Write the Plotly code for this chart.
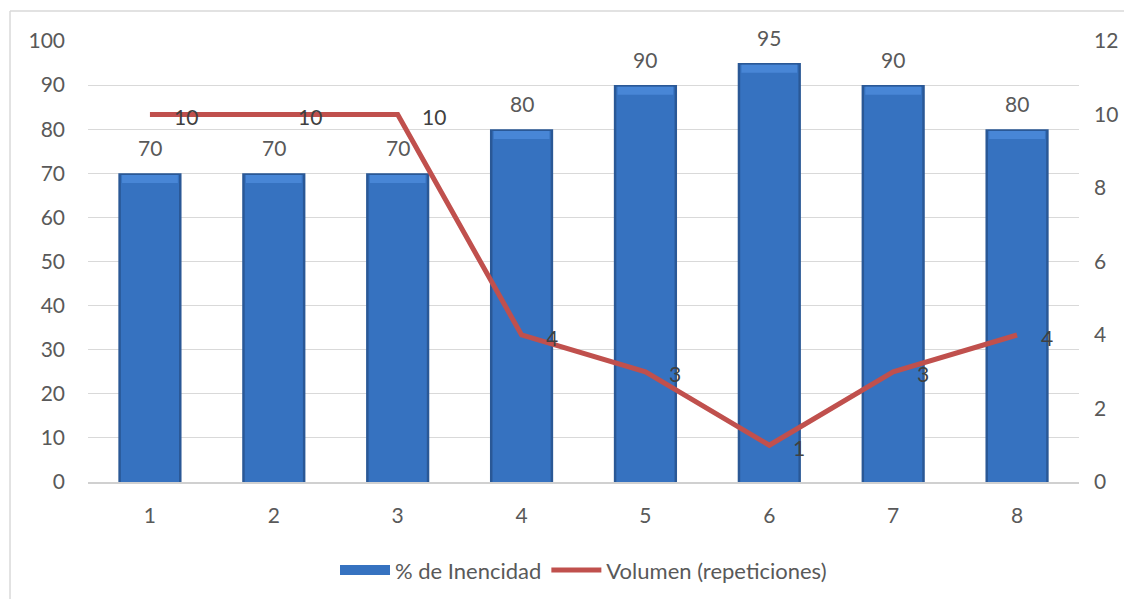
import plotly.graph_objects as go

categories = [1, 2, 3, 4, 5, 6, 7, 8]
intensidad = [70, 70, 70, 80, 90, 95, 90, 80]
volumen = [10, 10, 10, 4, 3, 1, 3, 4]
left_ticks = [0, 10, 20, 30, 40, 50, 60, 70, 80, 90, 100]
right_ticks = [0, 2, 4, 6, 8, 10, 12]

FONT = "Lato"
GRAY = "#595959"
BLUE = "#3672c0"
RED = "#c0504d"
BEVEL = 1.8  # height of the light top bevel strip, in axis units

fig = go.Figure()
# outer dark edge of each bar
fig.add_trace(go.Bar(
    x=categories, y=intensidad, name="% de Inencidad",
    marker=dict(color="#2a5896", line=dict(width=0)),
    width=0.51, yaxis="y", showlegend=False, hoverinfo="skip",
))
# bar body
fig.add_trace(go.Bar(
    x=categories, y=[v - 0.4 for v in intensidad], name="% de Inencidad",
    marker=dict(color=BLUE, line=dict(width=0)),
    width=0.47, yaxis="y", showlegend=False,
))
# light top bevel
fig.add_trace(go.Bar(
    x=categories, y=[BEVEL] * len(intensidad), base=[v - BEVEL - 0.4 for v in intensidad],
    marker=dict(color="#4886d6", line=dict(width=0)),
    width=0.45, yaxis="y", showlegend=False, hoverinfo="skip",
))
# legend stand-in for the bar series (wide rectangle swatch)
fig.add_trace(go.Scatter(
    x=[None], y=[None], name="% de Inencidad", mode="lines",
    line=dict(color=BLUE, width=10), yaxis="y",
))
fig.add_trace(go.Scatter(
    x=categories, y=volumen, name="Volumen (repeticiones)",
    mode="lines", line=dict(color=RED, width=5),
    yaxis="y2",
))

annotations = []
for c, v in zip(categories, intensidad):
    annotations.append(dict(x=c, y=v, xref="x", yref="y", text=str(v),
                            showarrow=False, yshift=26,
                            font=dict(family=FONT, size=21, color=GRAY)))
for c, v in zip(categories, volumen):
    annotations.append(dict(x=c, y=v, xref="x", yref="y2", text=str(v),
                            showarrow=False, xanchor="left", xshift=22, yshift=-2,
                            font=dict(family=FONT, size=21, color="#404040")))

shapes = [
    dict(type="line", xref="paper", yref="paper", x0=-0.0787, x1=-0.0787, y0=-0.30, y1=1.068,
         line=dict(color="#d9d9d9", width=1.5)),
    dict(type="line", xref="paper", yref="paper", x0=-0.0787, x1=1.06, y0=1.068, y1=1.068,
         line=dict(color="#d9d9d9", width=1.5)),
]

fig.update_layout(
    width=1124, height=591,
    margin=dict(l=80, r=53, t=33, b=117, autoexpand=False),
    paper_bgcolor="white", plot_bgcolor="white",
    barmode="overlay",
    font=dict(family=FONT, size=21, color=GRAY),
    xaxis=dict(range=[0.5, 8.5], tickvals=categories, ticktext=[str(c) for c in categories],
               showgrid=False, zeroline=False, showline=True, linecolor="#d0d0d0", linewidth=2,
               ticks="", tickfont=dict(size=21, color=GRAY), ticklabelstandoff=14, automargin=False),
    yaxis=dict(range=[0, 100], tickvals=left_ticks, showgrid=True, gridcolor="#d9d9d9", gridwidth=1,
               zeroline=False, showline=False, ticks="", tickfont=dict(size=21, color=GRAY),
               ticklabelstandoff=22, automargin=False),
    yaxis2=dict(range=[0, 12], tickvals=right_ticks, overlaying="y", side="right", showgrid=False,
                zeroline=False, showline=False, ticks="", tickfont=dict(size=21, color=GRAY),
                ticklabelstandoff=14, automargin=False),
    legend=dict(orientation="h", x=0.5, xanchor="center", y=-0.2, yanchor="middle",
                font=dict(size=22, color=GRAY), itemwidth=50, traceorder="normal"),
    annotations=annotations,
    shapes=shapes,
)

fig.write_html("out.html")
